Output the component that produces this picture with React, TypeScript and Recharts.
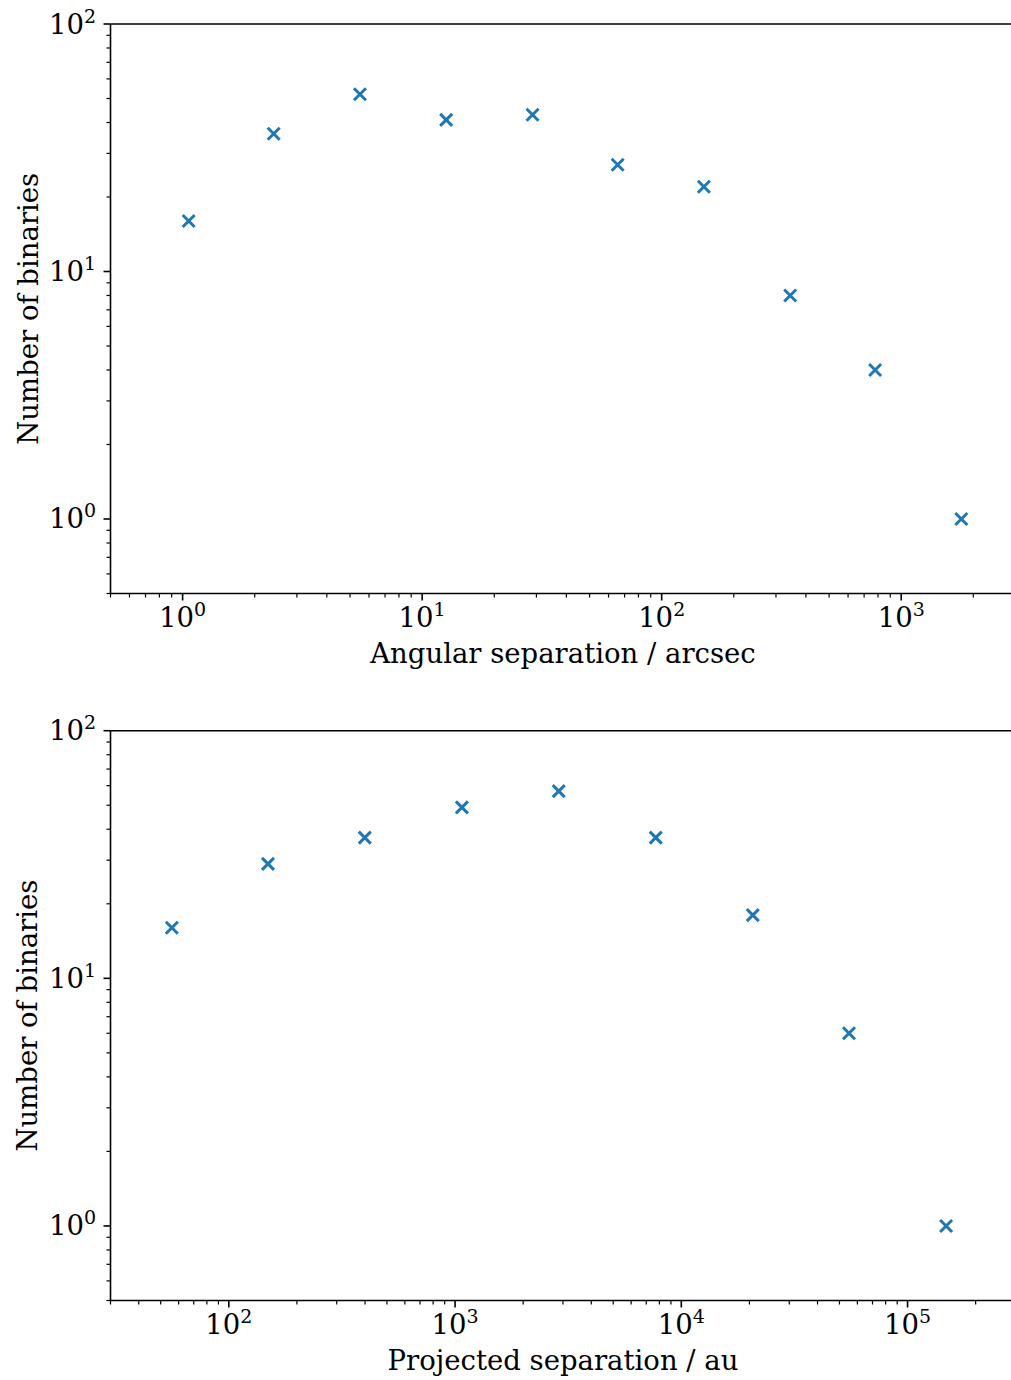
import React from "react";
import { ScatterChart, Scatter, XAxis, YAxis, ReferenceLine } from "recharts";

// angular separation bins (arcsec) and counts
const angSep = [1.06, 2.4, 5.5, 12.6, 28.9, 65.5, 150, 344, 778, 1782];
const angCount = [16, 36, 52, 41, 43, 27, 22, 8, 4, 1];

// projected separation bins (au) and counts
const projSep = [56, 149, 399, 1072, 2873, 7709, 20700, 55100, 148000];
const projCount = [16, 29, 37, 49, 57, 37, 18, 6, 1];

// major ticks and their exponent labels
const angMajor = [1, 10, 100, 1000];
const angMajorLabels = ["0", "1", "2", "3"];
const projMajor = [100, 1000, 10000, 100000];
const projMajorLabels = ["2", "3", "4", "5"];
const countMajor = [1, 10, 100];
const countMajorLabels = ["0", "1", "2"];

const FONT = "'DejaVu Serif', serif";
const FS = 27.5;
const SUP_FS = 19;
const BLUE = "#1f77b4";

// unlabelled 2..9 ticks for each decade inside [lo, hi]
function minorTicks(lo: number, hi: number) {
  const out: number[] = [];
  for (let d = Math.floor(Math.log10(lo)); d <= Math.ceil(Math.log10(hi)); d++) {
    for (let m = 2; m <= 9; m++) {
      const v = m * Math.pow(10, d);
      if (v >= lo * 0.999999 && v <= hi * 1.000001) out.push(v);
    }
  }
  return out;
}

function allTicks(major: number[], lo: number, hi: number) {
  return [...major, ...minorTicks(lo, hi)].sort((a, b) => a - b);
}

function labelFor(v: number, major: number[], labels: string[]) {
  const i = major.findIndex((m) => Math.abs(m - v) / m < 1e-6);
  return i >= 0 ? labels[i] : null;
}

const makeXTick = (major: number[], labels: string[]) => (props: any) => {
  const { x, y, payload } = props;
  const exp = labelFor(payload.value, major, labels);
  return (
    <g>
      <line x1={x} x2={x} y1={y} y2={y + (exp ? 7 : 4)} stroke="#000" strokeWidth={exp ? 1.6 : 1.2} />
      {exp && (
        <text x={x} y={y + 33.5} textAnchor="middle" fontFamily={FONT} fontSize={FS} fill="#000">
          10
          <tspan dy={-11} fontSize={SUP_FS}>
            {exp}
          </tspan>
        </text>
      )}
    </g>
  );
};

const makeYTick = (major: number[], labels: string[]) => (props: any) => {
  const { x, y, payload } = props;
  const exp = labelFor(payload.value, major, labels);
  return (
    <g>
      <line x1={x - (exp ? 7 : 4)} x2={x} y1={y} y2={y} stroke="#000" strokeWidth={exp ? 1.6 : 1.2} />
      {exp && (
        <text x={x - 14.5} y={y + 9.5} textAnchor="end" fontFamily={FONT} fontSize={FS} fill="#000">
          10
          <tspan dy={-11} fontSize={SUP_FS}>
            {exp}
          </tspan>
        </text>
      )}
    </g>
  );
};

const Cross = (props: any) => {
  const { cx, cy } = props;
  const h = 6;
  return (
    <path
      d={`M${cx - h},${cy - h}L${cx + h},${cy + h}M${cx - h},${cy + h}L${cx + h},${cy - h}`}
      stroke={BLUE}
      strokeWidth={3}
      fill="none"
    />
  );
};

const xTitle = (text: string) => (p: any) => {
  const vb = p.viewBox;
  return (
    <text x={vb.x + vb.width / 2} y={vb.y + 69.5} textAnchor="middle" fontFamily={FONT} fontSize={FS} fill="#000">
      {text}
    </text>
  );
};

const yTitle = (text: string) => (p: any) => {
  const vb = p.viewBox;
  const cy = vb.y + vb.height / 2;
  return (
    <text
      x={37.5}
      y={cy}
      transform={`rotate(-90, 37.5, ${cy})`}
      textAnchor="middle"
      fontFamily={FONT}
      fontSize={FS}
      fill="#000"
    >
      {text}
    </text>
  );
};

type PanelProps = {
  xs: number[];
  ys: number[];
  xDomain: [number, number];
  xMajor: number[];
  xLabels: string[];
  xTitleText: string;
  top: number;
  height: number;
  xAxisHeight: number;
};

function Panel({ xs, ys, xDomain, xMajor, xLabels, xTitleText, top, height, xAxisHeight }: PanelProps) {
  const data = xs.map((x, i) => ({ x, y: ys[i] }));
  const yDomain: [number, number] = [0.5, 100];
  return (
    <ScatterChart width={1020} height={height} margin={{ top, right: 4.5, bottom: 0, left: 0 }}>
      <XAxis
        type="number"
        dataKey="x"
        scale="log"
        domain={xDomain}
        allowDataOverflow
        ticks={allTicks(xMajor, xDomain[0], xDomain[1])}
        interval={0}
        tickSize={0}
        tickMargin={0}
        tickLine={false}
        axisLine={{ stroke: "#000", strokeWidth: 1.6 }}
        tick={makeXTick(xMajor, xLabels)}
        height={xAxisHeight}
        label={{ content: xTitle(xTitleText) }}
      />
      <YAxis
        type="number"
        dataKey="y"
        scale="log"
        domain={yDomain}
        allowDataOverflow
        ticks={allTicks(countMajor, yDomain[0], yDomain[1])}
        interval={0}
        tickSize={0}
        tickMargin={0}
        tickLine={false}
        axisLine={{ stroke: "#000", strokeWidth: 1.6 }}
        tick={makeYTick(countMajor, countMajorLabels)}
        width={110.5}
        label={{ content: yTitle("Number of binaries") }}
      />
      <ReferenceLine y={100} stroke="#000" strokeWidth={1.6} />
      <Scatter data={data} shape={<Cross />} isAnimationActive={false} />
    </ScatterChart>
  );
}

export default function App() {
  return (
    <div
      style={{
        position: "absolute",
        left: 0,
        top: 0,
        width: 1011,
        height: 1380,
        overflow: "hidden",
        background: "#fff",
      }}
    >
      <div style={{ position: "absolute", left: 0, top: 0 }}>
        <Panel
          xs={angSep}
          ys={angCount}
          xDomain={[0.5, 3000]}
          xMajor={angMajor}
          xLabels={angMajorLabels}
          xTitleText="Angular separation / arcsec"
          top={24}
          height={700}
          xAxisHeight={106.5}
        />
      </div>
      <div style={{ position: "absolute", left: 0, top: 700 }}>
        <Panel
          xs={projSep}
          ys={projCount}
          xDomain={[30, 300000]}
          xMajor={projMajor}
          xLabels={projMajorLabels}
          xTitleText="Projected separation / au"
          top={30.7}
          height={680}
          xAxisHeight={79.5}
        />
      </div>
    </div>
  );
}
